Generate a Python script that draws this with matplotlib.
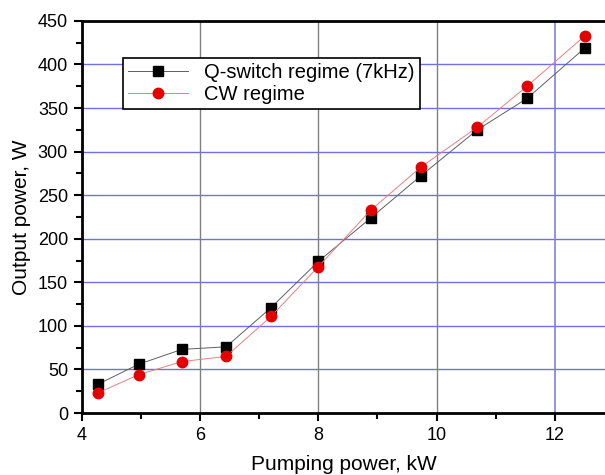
import numpy as np
import matplotlib
matplotlib.use('Agg')
import matplotlib.pyplot as plt
from matplotlib.ticker import MultipleLocator

plt.rcParams['font.family'] = ['Liberation Sans', 'DejaVu Sans']

# data
pump_kw = [4.27, 4.96, 5.69, 6.44, 7.2, 8.0, 8.89, 9.73, 10.69, 11.53, 12.51]
qswitch_w = [33, 56, 73, 76, 121, 174, 224, 272, 325, 361, 419]
cw_w = [23, 44, 59, 65, 111, 168, 233, 282, 328, 375, 433]

fig = plt.figure(figsize=(6.05, 4.75), dpi=100)
ax = fig.add_axes([0.1355, 0.1305, 0.8645, 0.8255])

ax.set_xlim(4, 12.85)
ax.set_ylim(0, 450)

# grid: blue horizontals, grey verticals (last one blue)
for yv in range(50, 450, 50):
    ax.axhline(yv, color='#6f6fe8', lw=1.0, zorder=0)
for xv in [6, 8, 10]:
    ax.axvline(xv, color='#808080', lw=1.0, zorder=0)
ax.axvline(12, color='#8080e8', lw=1.2, zorder=0)

ax.plot(pump_kw, qswitch_w, '-', color='#606060', lw=0.7,
        marker='s', ms=6.5, mfc='black', mec='black', label='Q-switch regime (7kHz)', zorder=3)
ax.plot(pump_kw, cw_w, '-', color='#e88080', lw=0.7,
        marker='o', ms=7.5, mfc='#e50000', mec='#e50000', label='CW regime', zorder=4)

ax.xaxis.set_major_locator(MultipleLocator(2))
ax.xaxis.set_minor_locator(MultipleLocator(1))
ax.yaxis.set_major_locator(MultipleLocator(50))
ax.yaxis.set_minor_locator(MultipleLocator(25))
ax.tick_params(which='both', direction='out', width=1.5, labelsize=13, top=False, right=False)
ax.tick_params(which='major', length=6, pad=4)
ax.tick_params(which='minor', length=4)

for side in ['left', 'bottom', 'top']:
    ax.spines[side].set_linewidth(2)
ax.spines['right'].set_visible(False)

ax.set_xlabel('Pumping power, kW', fontsize=15, labelpad=8)
ax.set_ylabel('Output power, W', fontsize=15, labelpad=5)

leg = ax.legend(loc='upper left', bbox_to_anchor=(0.078, 0.905), fontsize=14.5,
                frameon=True, fancybox=False, edgecolor='black', framealpha=1,
                borderpad=0.25, handlelength=3.0, labelspacing=0.15, borderaxespad=0)
leg.get_frame().set_linewidth(1.2)

fig.savefig('out.png', dpi=100)
